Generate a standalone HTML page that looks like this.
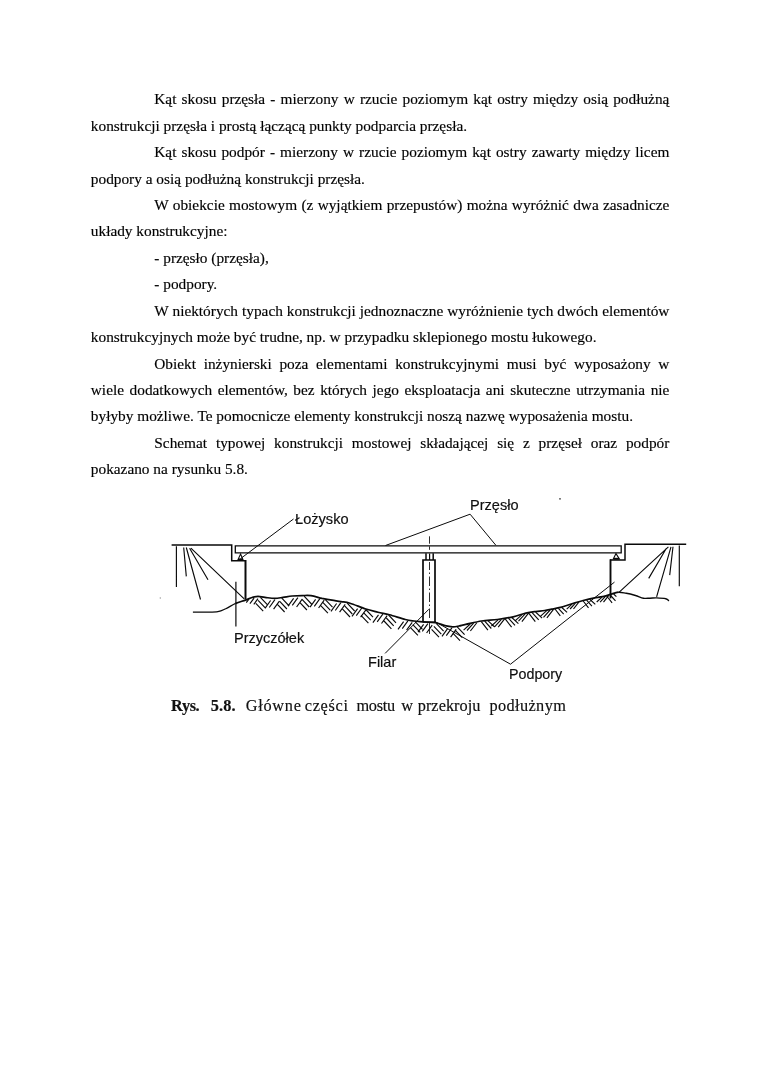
<!DOCTYPE html>
<html><head><meta charset="utf-8">
<style>
html,body{margin:0;padding:0;background:#fff;}
body{width:760px;height:1075px;position:relative;overflow:hidden;font-family:"Liberation Serif",serif;color:#000;}
#pg{position:absolute;left:0;top:0;width:760px;height:1075px;will-change:transform;opacity:0.999;}
.l,.lb,.cap{-webkit-text-stroke:0.16px #000;}
.l{position:absolute;left:90.8px;width:578.6px;font-size:15.33px;line-height:20px;white-space:nowrap;height:20px;}
.l.i{left:154.3px;width:515.1px;}
.l.j{text-align:justify;text-align-last:justify;}
.lb{position:absolute;font-family:"Liberation Sans",sans-serif;font-size:13.9px;line-height:17px;white-space:nowrap;color:#111;transform-origin:0 0;}
.cap{position:absolute;left:0;top:695.6px;font-size:16.3px;line-height:20px;white-space:nowrap;color:#111;}
.cw{position:absolute;top:0;white-space:nowrap;}
</style></head><body><div id="pg">
<div class="l i j" style="top:89.20px"><span>Kąt skosu przęsła - mierzony w rzucie poziomym kąt ostry między osią podłużną</span></div>
<div class="l" style="top:115.64px"><span>konstrukcji przęsła i prostą łączącą punkty podparcia przęsła.</span></div>
<div class="l i j" style="top:142.08px"><span>Kąt skosu podpór - mierzony w rzucie poziomym kąt ostry zawarty między licem</span></div>
<div class="l" style="top:168.52px"><span>podpory a osią podłużną konstrukcji przęsła.</span></div>
<div class="l i j" style="top:194.96px"><span>W obiekcie mostowym (z wyjątkiem przepustów) można wyróżnić dwa zasadnicze</span></div>
<div class="l" style="top:221.40px"><span>układy konstrukcyjne:</span></div>
<div class="l i" style="top:247.84px"><span>- przęsło (przęsła),</span></div>
<div class="l i" style="top:274.28px"><span>- podpory.</span></div>
<div class="l i j" style="top:300.72px"><span>W niektórych typach konstrukcji jednoznaczne wyróżnienie tych dwóch elementów</span></div>
<div class="l" style="top:327.16px"><span>konstrukcyjnych może być trudne, np. w przypadku sklepionego mostu łukowego.</span></div>
<div class="l i j" style="top:353.60px"><span>Obiekt inżynierski poza elementami konstrukcyjnymi musi być wyposażony w</span></div>
<div class="l j" style="top:380.04px"><span>wiele dodatkowych elementów, bez których jego eksploatacja ani skuteczne utrzymania nie</span></div>
<div class="l" style="top:406.48px"><span>byłyby możliwe. Te pomocnicze elementy konstrukcji noszą nazwę wyposażenia mostu.</span></div>
<div class="l i j" style="top:432.92px"><span>Schemat typowej konstrukcji mostowej składającej się z przęseł oraz podpór</span></div>
<div class="l" style="top:459.36px"><span>pokazano na rysunku 5.8.</span></div>
<!--FIG--><svg class="fig" width="760" height="1075" viewBox="0 0 760 1075" style="position:absolute;left:0;top:0" fill="none" stroke="#0a0a0a" stroke-linecap="butt">
<!-- deck -->
<path d="M235.3 545.8 H621.2 V552.8 H235.3 Z" stroke-width="1.3"/>
<!-- left abutment -->
<path d="M171.6 544.9 H231.7 V560.7 H246" stroke-width="1.5"/>
<path d="M245.5 560 V599.5" stroke-width="2"/>
<path d="M240.6 554 L238 559.6 H243 Z" stroke-width="1.1"/>
<path d="M238.6 559.2 H242.6" stroke-width="1.6"/>
<!-- right abutment -->
<path d="M686.2 544.2 H625 V560 H610" stroke-width="1.5"/>
<path d="M610.5 559.3 V598.4" stroke-width="1.9"/>
<path d="M616 553.6 L613.3 559 H619.4 Z" stroke-width="1.1"/>
<path d="M614 558.6 H618.8" stroke-width="1.6"/>
<!-- pier -->
<path d="M423 622.2 V560 H435 V622.6" stroke-width="1.7"/>
<path d="M423 622 H435" stroke-width="1"/>
<path d="M426 553.2 V560 M433.2 553.2 V560" stroke-width="1.5"/><path d="M429.6 553.4 V560" stroke-width="1.2"/>
<path d="M429.5 536.3 V543.7 M429.5 546.4 V549.8 M429.5 562 V570 M429.5 572.5 V574 M429.5 576.5 V586 M429.5 588.5 V590 M429.5 592.5 V602 M429.5 604.5 V606 M429.5 608.5 V618 M429.5 622.7 V634" stroke-width="0.85"/>
<!-- slope fans -->
<path d="M176.4 546.2 V587 M183.7 547.5 L186.3 576.4 M186.3 547.5 L200.5 599.5 M189.6 548.2 L208 579.7 M190.9 548.2 L244.2 598.8" stroke-width="1.15"/>
<path d="M679.3 545.5 V586.3 M673 546.8 L669.7 575.1 M671 546.8 L656.6 596.8 M666.4 548.2 L648.7 578.4 M668.4 546.8 L618.4 592.9" stroke-width="1.15"/>
<!-- leaders -->
<path d="M293.5 519 L240.6 558.6" stroke-width="1"/>
<path d="M235.9 581.7 V626.6" stroke-width="1.2"/>
<path d="M428.8 609.3 L385.1 653.4" stroke-width="1"/>
<path d="M385.5 545.5 L470.1 514.2 L495.8 545.2" stroke-width="1"/>
<path d="M434.7 621.4 L510.5 664.2 L614.5 582.1" stroke-width="1"/>
<!-- ground -->
<path d="M192.9 612.0 C194.9 612.0 200.8 612.1 205.0 612.1  C209.2 612.1 214.4 612.3 217.9 611.7  C221.4 611.1 222.8 610.1 225.8 608.7  C228.8 607.3 232.4 604.8 235.7 603.4 " stroke-width="1.25" stroke-linejoin="round"/>
<path d="M235.7 603.4 C239.0 602.0 242.8 601.1 245.5 600.1  C248.2 599.1 250.0 598.1 252.1 597.5  C254.2 596.9 255.8 596.4 258.0 596.4  C260.1 596.4 262.2 597.1 265.0 597.4  C267.8 597.7 271.7 598.4 274.7 598.4  C277.7 598.4 280.1 597.8 283.0 597.4  C285.9 597.0 288.9 596.3 292.1 596.0  C295.3 595.7 298.9 595.6 302.0 595.6  C305.1 595.6 307.6 595.2 311.0 595.7  C314.4 596.2 318.6 597.6 322.1 598.4  C325.6 599.1 328.9 599.7 332.0 600.2  C335.1 600.7 338.0 601.1 341.0 601.6  C344.0 602.1 345.9 602.0 350.0 603.2  C354.1 604.4 361.1 607.5 365.8 609.0  C370.5 610.5 374.1 611.2 378.0 612.2  C381.9 613.2 384.9 613.5 389.5 614.7  C394.1 615.9 401.2 618.5 405.3 619.5  C409.4 620.5 411.1 620.6 414.0 621.0  C416.9 621.4 419.1 621.5 422.6 621.8  C426.2 622.1 431.6 622.0 435.3 622.6  C439.0 623.2 442.1 624.9 445.0 625.6  C447.9 626.3 450.3 626.7 452.6 626.8  C454.9 626.9 456.8 626.4 459.0 626.0  C461.2 625.6 462.0 625.2 465.8 624.4  C469.6 623.6 476.3 621.8 481.6 621.0  C486.9 620.2 492.1 620.2 497.4 619.5  C502.7 618.8 508.5 617.9 513.2 616.8  C517.9 615.7 522.0 614.0 525.8 613.1  C529.6 612.2 532.6 611.9 535.8 611.5  C538.9 611.1 542.1 610.9 544.7 610.5  C547.3 610.1 549.0 609.7 551.6 609.2  C554.2 608.7 557.9 608.1 560.5 607.4  C563.1 606.7 565.0 606.0 567.4 605.2  C569.8 604.4 572.4 603.6 575.0 602.8  C577.6 602.0 579.7 601.4 583.2 600.5  C586.7 599.6 592.3 598.4 595.8 597.7  C599.3 597.0 601.5 596.8 604.0 596.3  C606.5 595.8 608.1 595.1 610.5 594.4  C612.9 593.7 615.8 592.4 618.4 592.2 " stroke-width="1.7" stroke-linejoin="round"/>
<path d="M618.4 592.2 C621.0 592.0 623.4 592.8 626.3 593.3  C629.1 593.8 632.6 594.7 635.5 595.5  C638.4 596.3 641.0 597.8 643.4 598.2  C645.8 598.7 647.8 598.2 650.0 598.2  C652.2 598.2 654.0 597.8 656.6 597.9  C659.2 598.0 663.7 598.3 665.8 598.8  C667.9 599.3 668.5 600.5 669.0 600.8" stroke-width="1.4" stroke-linejoin="round"/>
<path d="M255.8 603.3 L263.2 611.1 M258.1 600.3 L265.5 608.1 M260.4 597.3 L267.8 605.1 M277.2 604.2 L284.6 612.0 M279.5 601.2 L286.9 609.0 M281.8 598.2 L289.2 606.0 M299.5 602.2 L306.9 610.0 M301.8 599.2 L309.2 607.0 M304.1 596.2 L311.5 604.0 M320.5 605.4 L327.9 613.2 M322.8 602.4 L330.2 610.2 M325.1 599.4 L332.5 607.2 M342.6 609.2 L350.0 617.0 M344.9 606.2 L352.3 614.0 M347.2 603.2 L354.6 611.0 M361.0 615.3 L368.4 623.1 M363.3 612.3 L370.7 620.1 M365.8 609.5 L373.0 617.1 M384.0 621.0 L391.4 628.8 M386.3 618.0 L393.7 625.8 M388.6 615.0 L396.0 622.8 M410.5 627.6 L417.9 635.4 M412.8 624.6 L420.2 632.4 M415.1 621.6 L422.5 629.4 M431.6 629.3 L439.0 637.1 M433.9 626.3 L441.3 634.1 M436.2 623.3 L443.6 631.1 M452.6 632.9 L460.0 640.7 M454.9 629.9 L462.3 637.7 M457.2 626.9 L464.6 634.7 M481.3 621.6 L487.9 630.1 M484.7 621.2 L491.3 628.5 M488.1 620.9 L494.7 627.0 M505.0 618.7 L511.6 627.2 M508.4 618.1 L515.0 625.4 M511.8 617.5 L518.4 623.6 M528.7 613.1 L535.3 621.6 M532.1 612.6 L538.7 619.9 M535.5 612.0 L542.1 618.1 M555.0 609.0 L560.3 615.8 M558.4 608.3 L563.7 614.2 M561.8 607.5 L567.1 612.4 M583.2 601.0 L588.5 607.8 M586.6 600.2 L591.9 606.1 M590.0 599.5 L595.3 604.4 M606.8 596.0 L612.1 602.8 M610.2 595.0 L615.5 600.8 M613.6 594.0 L616.4 596.6 M246.3 602.7 L248.9 599.2 M249.9 603.7 L254.1 598.1 M253.8 604.3 L258.0 598.7 M265.0 608.3 L270.6 600.5 M269.3 607.5 L274.9 599.7 M273.6 609.1 L279.2 601.3 M288.0 606.2 L293.6 598.4 M292.3 605.4 L297.9 597.6 M296.6 607.0 L302.2 599.2 M310.0 607.2 L315.6 599.4 M314.3 606.4 L319.9 598.6 M318.6 608.0 L324.2 600.2 M331.0 611.3 L336.6 603.5 M335.3 610.5 L340.9 602.7 M339.6 612.1 L345.2 604.3 M352.0 616.4 L357.6 608.6 M356.3 615.6 L361.8 608.0 M360.6 617.2 L366.1 609.6 M372.9 622.7 L378.5 614.9 M377.2 621.9 L382.8 614.1 M381.5 623.5 L387.1 615.7 M398.0 629.4 L403.6 621.6 M402.3 628.6 L407.9 620.8 M406.6 630.2 L412.2 622.4 M418.0 632.2 L423.6 624.4 M422.3 631.4 L427.9 623.6 M426.6 633.0 L432.2 625.2 M442.0 636.4 L447.6 628.6 M446.3 635.6 L451.9 627.8 M450.6 637.2 L456.2 629.4 M463.6 630.1 L470.2 624.0 M467.0 630.5 L473.6 623.2 M470.4 631.0 L477.0 622.5 M491.4 626.0 L498.0 619.9 M494.8 626.6 L501.4 619.3 M498.2 627.2 L504.8 618.7 M515.1 620.9 L521.7 614.8 M518.5 621.1 L525.1 613.8 M521.9 621.7 L528.5 613.2 M540.1 616.7 L546.7 610.6 M543.5 617.3 L550.1 610.0 M546.9 617.8 L553.5 609.3 M566.7 609.1 L572.0 604.2 M570.1 609.0 L575.4 603.2 M573.5 609.0 L578.8 602.2 M596.7 602.0 L602.0 597.1 M600.1 602.2 L605.4 596.4 M603.5 602.2 L608.8 595.4 " stroke-width="1.15"/>
<circle cx="560" cy="498.8" r="0.9" fill="#444" stroke="none"/>
<circle cx="160.3" cy="598" r="0.7" fill="#999" stroke="none"/>
</svg>
<div class="lb" style="left:295.20px;top:510.60px;transform:scaleX(1.052)">Łożysko</div>
<div class="lb" style="left:469.65px;top:497.25px;transform:scaleX(1.049)">Przęsło</div>
<div class="lb" style="left:233.65px;top:629.90px;transform:scaleX(1.045)">Przyczółek</div>
<div class="lb" style="left:368.05px;top:654.00px;transform:scaleX(1.046)">Filar</div>
<div class="lb" style="left:508.67px;top:666.30px;transform:scaleX(1.027)">Podpory</div>
<div class="cap"><span class="cw" style="left:171.1px;letter-spacing:-0.38px;font-weight:bold;">Rys.</span><span class="cw" style="left:210.7px;letter-spacing:0.19px;font-weight:bold;">5.8.</span><span class="cw" style="left:245.7px;letter-spacing:0.75px;">Główne</span><span class="cw" style="left:304.7px;letter-spacing:0.73px;">części</span><span class="cw" style="left:356.4px;letter-spacing:-0.28px;">mostu</span><span class="cw" style="left:401.2px;letter-spacing:0.00px;">w</span><span class="cw" style="left:417.7px;letter-spacing:0.05px;">przekroju</span><span class="cw" style="left:489.4px;letter-spacing:0.40px;">podłużnym</span></div><!--/FIG--></div></body></html>
